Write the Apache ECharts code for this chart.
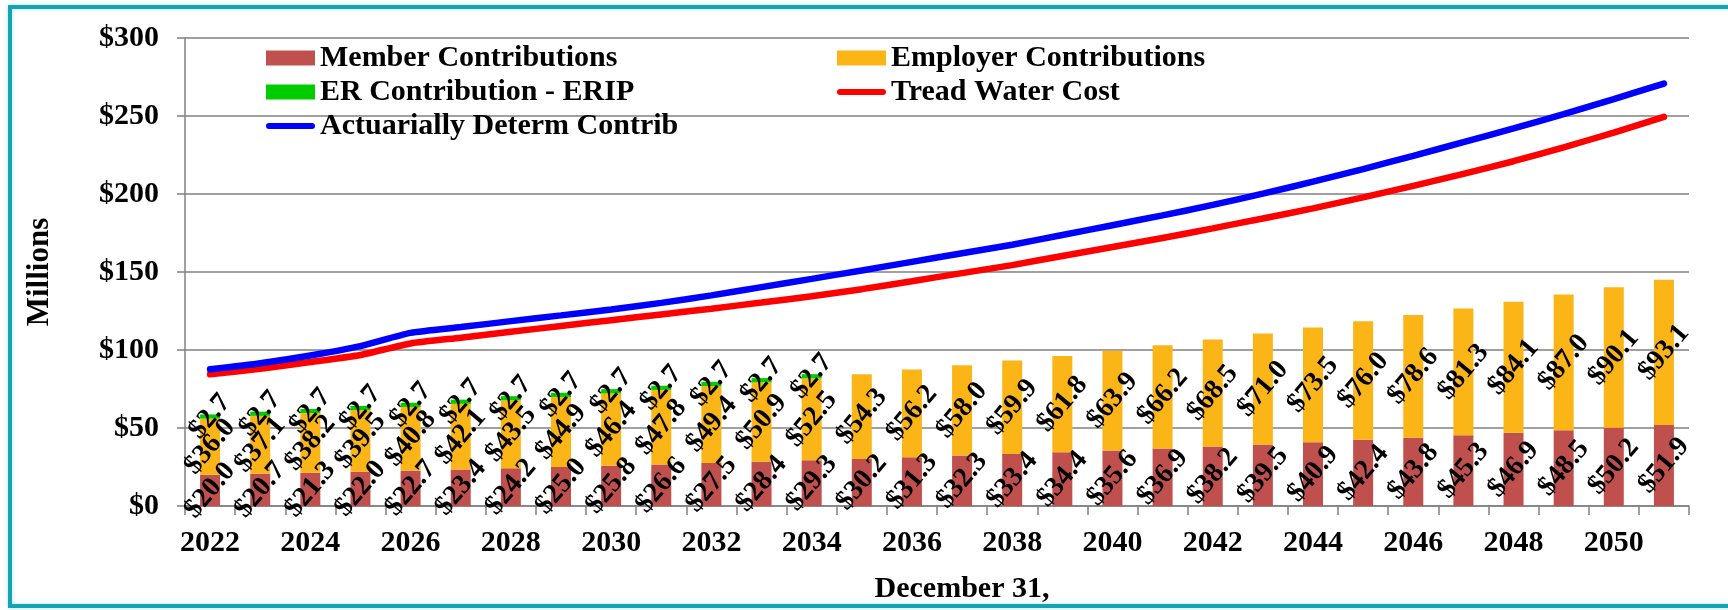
<!DOCTYPE html>
<html>
<head>
<meta charset="utf-8">
<title>Contributions</title>
<script src="https://cdn.jsdelivr.net/npm/echarts@6/dist/echarts.min.js"></script>
<style>
html, body {
  margin: 0;
  padding: 0;
  background: #fff;
}
#chart {
  width: 1728px;
  height: 610px;
}
</style>
</head>
<body>
<div id="chart"></div>
<script>
// years on the x axis
var years = ["2022", "2023", "2024", "2025", "2026", "2027", "2028", "2029", "2030", "2031",
  "2032", "2033", "2034", "2035", "2036", "2037", "2038", "2039", "2040", "2041",
  "2042", "2043", "2044", "2045", "2046", "2047", "2048", "2049", "2050", "2051"];

// stacked bars ($ millions)
var memberContrib = [20.0, 20.7, 21.3, 22.0, 22.7, 23.4, 24.2, 25.0, 25.8, 26.6,
  27.5, 28.4, 29.3, 30.2, 31.3, 32.3, 33.4, 34.4, 35.6, 36.9,
  38.2, 39.5, 40.9, 42.4, 43.8, 45.3, 46.9, 48.5, 50.2, 51.9];
var employerContrib = [36.0, 37.1, 38.2, 39.5, 40.8, 42.1, 43.5, 44.9, 46.4, 47.8,
  49.4, 50.9, 52.5, 54.3, 56.2, 58.0, 59.9, 61.8, 63.9, 66.2,
  68.5, 71.0, 73.5, 76.0, 78.6, 81.3, 84.1, 87.0, 90.1, 93.1];
var eripContrib = [2.7, 2.7, 2.7, 2.7, 2.7, 2.7, 2.7, 2.7, 2.7, 2.7,
  2.7, 2.7, 2.7, null, null, null, null, null, null, null,
  null, null, null, null, null, null, null, null, null, null];

// lines
var treadWater = [84.4, 88.0, 92.3, 96.8, 104.2, 107.9, 111.7, 115.4, 119.1, 122.8,
  126.5, 130.4, 134.5, 139.0, 144.1, 149.3, 154.4, 160.3, 166.0, 171.8,
  178.0, 184.3, 190.8, 197.8, 205.2, 212.9, 221.0, 229.9, 239.4, 249.4];
var adc = [87.6, 91.5, 96.5, 102.5, 111.0, 114.7, 118.5, 122.2, 126.0, 130.2,
  135.0, 140.3, 145.6, 151.0, 156.5, 162.0, 167.5, 173.7, 180.0, 186.3,
  193.0, 200.2, 207.9, 216.0, 224.5, 233.2, 242.0, 251.2, 260.8, 270.8];

var yTicks = [0, 50, 100, 150, 200, 250, 300];

var serif = "'Liberation Serif', 'Times New Roman', serif";
var lineIcon = "path://M3,0H46A3,3,0,0,1,46,6H3A3,3,0,0,1,3,0Z";

var chart = echarts.init(document.getElementById("chart"));

function barLabel() {
  return {
    show: true,
    position: "inside",
    rotate: 50,
    color: "#000",
    fontFamily: serif,
    fontWeight: "bold",
    fontSize: 28,
    formatter: function(p) {
      if (p.value == null) return "";
      return "$" + p.value.toFixed(1);
    }
  };
}

var legendText = {
  fontFamily: serif,
  fontWeight: "bold",
  fontSize: 30,
  lineHeight: 30,
  color: "#000"
};

chart.setOption({
  animation: false,
  graphic: [
    {
      type: "rect",
      shape: { x: 10, y: 7, width: 1740, height: 599 },
      style: {
        fill: "none",
        stroke: "#14a3b4",
        lineWidth: 4,
        shadowBlur: 4,
        shadowColor: "rgba(20,163,180,0.35)"
      },
      silent: true
    }
  ],
  legend: [
    {
      left: 266,
      top: 43,
      orient: "vertical",
      padding: 0,
      itemGap: 4,
      itemWidth: 49,
      itemHeight: 15,
      textStyle: legendText,
      data: [
        { name: "Member Contributions", icon: "rect" },
        { name: "ER Contribution - ERIP", icon: "rect" },
        { name: "Actuarially Determ Contrib", icon: lineIcon }
      ]
    },
    {
      left: 837,
      top: 43,
      orient: "vertical",
      padding: 0,
      itemGap: 4,
      itemWidth: 49,
      itemHeight: 15,
      textStyle: legendText,
      data: [
        { name: "Employer Contributions", icon: "rect" },
        { name: "Tread Water Cost", icon: lineIcon }
      ]
    }
  ],
  grid: {
    left: 185,
    right: 39,
    top: 38,
    bottom: 104
  },
  xAxis: {
    type: "category",
    data: years,
    name: "December 31,",
    nameLocation: "middle",
    nameGap: 68,
    nameTextStyle: {
      fontFamily: serif,
      fontWeight: "bold",
      fontSize: 30,
      color: "#000",
      padding: [0, 0, 0, 50]
    },
    axisLine: { lineStyle: { color: "#808080", width: 1.5 } },
    axisTick: { show: true, length: 9, interval: 0, lineStyle: { color: "#808080", width: 1.5 } },
    axisLabel: {
      interval: 1,
      margin: 22,
      fontFamily: serif,
      fontWeight: "bold",
      fontSize: 30,
      color: "#000"
    }
  },
  yAxis: {
    type: "value",
    min: yTicks[0],
    max: yTicks[yTicks.length - 1],
    interval: 50,
    name: "Millions",
    nameLocation: "middle",
    nameGap: 130,
    nameTextStyle: {
      fontFamily: serif,
      fontWeight: "bold",
      fontSize: 31,
      color: "#000"
    },
    axisLine: { show: true, lineStyle: { color: "#808080", width: 1.5 } },
    axisTick: { show: true, length: 8, lineStyle: { color: "#808080", width: 1.5 } },
    splitLine: { lineStyle: { color: "#808080", width: 1.5 } },
    axisLabel: {
      margin: 26,
      fontFamily: serif,
      fontWeight: "bold",
      fontSize: 30,
      color: "#000",
      formatter: function(v) {
        return "$" + v;
      }
    }
  },
  series: [
    {
      name: "Member Contributions",
      type: "bar",
      stack: "c",
      barWidth: 20,
      itemStyle: { color: "#c0504d" },
      label: barLabel(),
      data: memberContrib
    },
    {
      name: "Employer Contributions",
      type: "bar",
      stack: "c",
      barWidth: 20,
      itemStyle: { color: "#fcb517" },
      label: barLabel(),
      data: employerContrib
    },
    {
      name: "ER Contribution - ERIP",
      type: "bar",
      stack: "c",
      barWidth: 20,
      itemStyle: { color: "#00cc00" },
      label: barLabel(),
      data: eripContrib
    },
    {
      name: "Tread Water Cost",
      type: "line",
      symbol: "none",
      smooth: 0.2,
      z: 5,
      itemStyle: { color: "#ff0000" },
      lineStyle: { color: "#ff0000", width: 6.5, cap: "round" },
      data: treadWater
    },
    {
      name: "Actuarially Determ Contrib",
      type: "line",
      symbol: "none",
      smooth: 0.2,
      z: 5,
      itemStyle: { color: "#0000ff" },
      lineStyle: { color: "#0000ff", width: 6.5, cap: "round" },
      data: adc
    }
  ]
});
</script>
</body>
</html>
